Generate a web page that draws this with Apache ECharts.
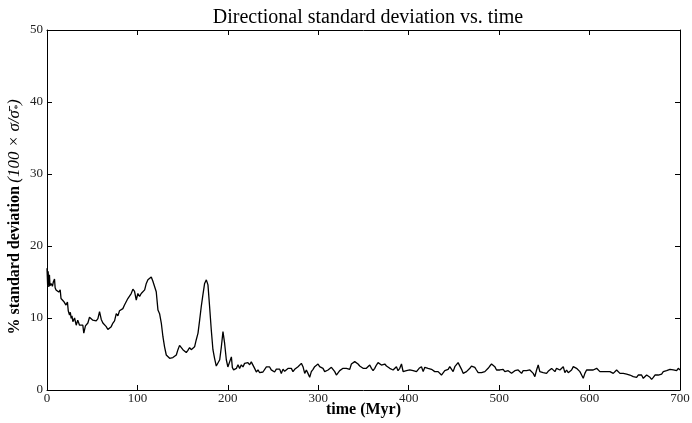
<!DOCTYPE html>
<html>
<head>
<meta charset="utf-8">
<script src="https://cdn.jsdelivr.net/npm/echarts@6/dist/echarts.min.js"></script>
<style>html,body{margin:0;padding:0;background:#fff}#c{width:692px;height:423px}</style>
</head>
<body>
<div id="c"></div>
<script>
var titleText = 'Directional standard deviation vs. time';
var xName = 'time (Myr)';
var yNameMain = '% standard deviation';
var yNameMath = '(100 × σ/σ̄';
var xTicks = [0, 100, 200, 300, 400, 500, 600, 700];
var yTicks = [0, 10, 20, 30, 40, 50];

// [time (Myr), % standard deviation]
var samples = [
[0,16.9],[0.7,14.6],[1.3,16.5],[2,14.3],[2.7,16.0],[3.3,14.5],[4.5,14.8],[6,14.4],[7,15.0],[8.3,15.4],[9,14.2],[10,13.9],
[11.5,14.1],[13,13.6],[14.6,13.9],[15.5,12.7],[17,12.9],[18.5,12.3],[19.4,12.4],[21,11.8],[22,11.9],[22.6,12.2],[23.5,11.0],
[24.9,10.4],[25.8,10.8],[26.7,9.95],[27.6,10.3],[28.6,9.5],[30.5,10.0],[32.3,9.0],[34,9.7],[36,9.0],[37.8,8.8],[39.6,9.0],
[40.7,7.9],[42.5,8.9],[45.2,9.3],[47,10.1],[49,10.1],[50.7,9.7],[52.6,9.5],[54.4,9.6],[56.3,9.9],[58.1,10.9],[60,9.8],
[61.8,9.3],[63.7,9.5],[65.5,8.8],[67.3,8.4],[69.2,8.5],[71,8.8],[72.9,9.3],[74.7,9.6],[76.6,10.6],[78.4,10.3],[80.2,11.0],
[82,10.8],[83.9,11.3],[85.7,11.8],[87.6,11.8],[89.4,12.7],[91.3,12.5],[93.1,13.4],[95,14.0],[96.8,13.7],[98.7,12.5],
[100.5,13.4],[102.4,13.0],[104.2,13.4],[106,13.2],[108,13.9],[109.8,14.8],[111.6,15.3],[113.4,15.5],[115.3,15.7],[117.1,15.1],
[119,15.3],[120.8,13.65],[122.7,11.1],[124.5,10.6],[126.4,9.3],[128.2,7.4],[130,6.0],[131.9,4.86],[133.7,4.6],[135.6,4.4],
[137.4,4.6],[139.2,4.5],[141,4.4],[143,4.86],[144.8,5.6],[146.6,6.2],[148.5,6.4],[150.3,5.6],[152.1,5.4],[154,5.2],
[155.8,5.5],[157.7,5.9],[159.5,5.6],[161.4,5.7],[163.2,6.0],[165,6.95],[167,7.9],[168.8,9.7],[170.6,11.6],[172.4,13.2],
[174.3,14.8],[176.2,15.3],[178,14.6],[179.8,11.6],[181.7,8.3],[183.5,5.6],[185.3,4.4],[187.2,3.33],[189,3.5],[191,4.2],
[192.8,6.0],[194.6,8.1],[196.4,6.5],[198.3,4.2],[200,3.2],[202,3.0],[203.9,4.6],[205,3.1],[206.4,2.8],[209.4,3.0],
[211.2,3.5],[213,3.0],[214.9,3.5],[216.7,3.2],[218.5,3.7],[220.4,3.5],[222.2,3.8],[224.1,3.5],[225.9,3.9],[227.8,3.7],
[229.6,3.0],[231.5,2.5],[233.3,2.8],[235.2,2.4],[237,2.3],[238.8,2.5],[240.7,2.6],[242.6,3.2],[244.4,3.3],[246.2,3.2],
[248,2.8],[249.9,3.0],[251.7,2.5],[253.6,2.9],[255.4,2.8],[257.3,2.9],[259.1,2.3],[261,2.9],[262.8,2.6],[264.7,2.8],
[266.5,3.0],[268.4,2.8],[270.2,3.0],[272,2.55],[273.9,2.87],[275.7,3.0],[277.6,3.24],[279.4,3.47],[281.3,3.7],[283.1,3.24],
[285,2.31],[286.8,2.78],[288.6,2.31],[290.5,1.76],[292.3,2.55],[294.2,2.87],[296,3.24],[297.8,3.47],[299.7,3.61],[301.5,3.24],
[303.4,3.33],[305.2,3.01],[307.1,2.55],[308.9,2.41],[310.8,2.78],[312.6,3.01],[314.5,3.15],[316.3,3.01],[318.2,2.55],[320,2.08],
[321.8,2.31],[323.7,2.69],[325.6,2.87],[327.4,3.01],[329.2,2.78],[331.1,3.01],[332.9,3.24],[334.8,2.87],[336.6,3.61],[338.4,3.47],
[340.3,3.94],[342.1,3.7],[344,3.61],[345.8,3.33],[347.7,3.24],[349.5,3.01],[351.4,2.78],[353.2,3.01],[355,3.24],[356.9,3.47],
[358.8,3.01],[360.6,2.69],[362.4,3.01],[364.3,3.47],[366.1,3.8],[368,4.07],[369.8,3.47],[371.7,3.24],[373.5,3.61],[375.4,3.33],
[377.2,3.24],[379,3.01],[380.9,2.87],[382.7,2.78],[384.6,3.01],[386.4,3.24],[388.2,2.69],[390.1,3.01],[392,3.61],[393.8,2.55],
[395.6,2.31],[397.5,2.69],[399.3,2.55],[401.2,2.78],[403,2.69],[404.9,2.69],[406.7,2.6],[408.6,2.55],[411.5,3.01],[414.1,3.24],
[416,2.55],[417.8,3.15],[419.6,3.24],[421.4,3.01],[423.3,3.15],[425.2,2.87],[427,2.78],[428.8,2.55],[430.7,2.41],[432.5,2.55],
[434.4,2.31],[436.2,2.08],[438,2.31],[439.9,2.69],[441.7,2.55],[443.6,2.87],[445.4,3.24],[447.3,3.15],[449.1,2.55],[451,3.24],
[452.8,3.47],[454.6,3.8],[456.5,3.7],[458.4,2.87],[460.2,2.31],[462,2.41],[463.9,2.55],[465.7,2.78],[467.6,3.01],[469.4,3.33],
[471.2,3.33],[473.1,3.15],[474.9,2.78],[476.8,2.41],[478.6,2.55],[480.5,2.41],[482.3,2.55],[484.2,2.55],[486,2.69],[487.8,3.01],
[489.7,3.33],[491.6,3.61],[493.4,3.7],[495.2,3.24],[497.1,2.78],[498.9,2.55],[500.8,2.78],[502.6,3.01],[504.4,2.87],[506.3,2.55],
[508.1,2.41],[510,2.69],[511.8,2.55],[513.7,2.31],[515.5,2.41],[517.4,2.69],[519.2,2.55],[521,2.78],[522.9,2.55],[524.8,2.31],
[526.6,2.69],[528.4,2.55],[530.3,2.69],[532.1,2.55],[534,2.78],[535.8,2.69],[537.7,2.31],[539.5,1.85],[541.4,2.78],[543.2,3.47],
[545,2.55],[546.9,2.31],[548.7,2.41],[550.6,2.55],[552.4,2.31],[554.2,2.6],[556.1,2.78],[558,3.0],[559.8,3.01],[561.7,2.55],
[563.5,3.01],[565.4,2.78],[567.2,2.78],[569,2.87],[570.9,3.24],[572.7,2.41],[574.6,2.78],[576.4,2.41],[578.3,2.55],[580.1,2.78],
[582,3.24],[583.8,3.47],[585.6,3.01],[587.5,3.24],[589.3,2.55],[591.2,2.08],[593,1.62],[594.8,2.31],[596.7,2.78],[598.5,2.55],
[600.4,2.78],[602.2,3.01],[604,2.78],[605.9,2.87],[607.8,3.01],[609.6,2.78],[611.4,2.55],[613.3,2.31],[615.1,2.55],[617,2.78],
[618.8,2.55],[620.6,2.31],[622.5,2.55],[624.4,2.41],[626.2,2.31],[628,2.55],[629.9,2.78],[631.8,2.55],[633.6,2.31],[635.4,2.55],
[637.3,2.31],[639.1,2.41],[641,2.22],[642.8,2.31],[644.6,2.08],[646.5,2.22],[648.3,1.85],[650.2,2.08],[652,1.76],[653.8,2.08],
[655.7,2.31],[657.5,2.08],[659.4,1.62],[661.2,1.85],[663.1,2.08],[664.9,2.31],[666.8,1.76],[668.6,1.48],[670.5,1.76],[672.3,2.08],
[674.2,1.85],[676,2.08],[677.9,2.31],[679.7,2.22],[681.5,2.55],[683.4,2.41],[685.2,2.69],[687,2.55],[688.9,2.87],[690.8,2.69],
[692.6,2.78],[694.4,2.87],[696.3,2.69],[698.1,3.01],[700,2.78]
];

var SERIF = '"Liberation Serif", "DejaVu Serif", serif';
var chart = echarts.init(document.getElementById('c'), null, {renderer: 'canvas'});

function xAx(pos, show) {
  return {
    type: 'value', position: pos, min: xTicks[0], max: xTicks[xTicks.length - 1], interval: 100,
    axisLine: {show: true, onZero: false, lineStyle: {color: '#000', width: 1}},
    axisTick: {show: true, inside: true, length: 5, lineStyle: {color: '#000', width: 1}},
    axisLabel: {show: show, color: '#222', fontFamily: SERIF, fontSize: 13, margin: 2},
    splitLine: {show: false}
  };
}
function yAx(pos, show) {
  return {
    type: 'value', position: pos, min: yTicks[0], max: yTicks[yTicks.length - 1], interval: 10,
    axisLine: {show: true, onZero: false, lineStyle: {color: '#000', width: 1}},
    axisTick: {show: true, inside: true, length: 5, lineStyle: {color: '#000', width: 1}},
    axisLabel: {show: show, color: '#222', fontFamily: SERIF, fontSize: 13, margin: 4},
    splitLine: {show: false}
  };
}

var xa = xAx('bottom', true);
xa.name = xName; xa.nameLocation = 'middle'; xa.nameGap = 12; xa.nameMoveOverlap = false;
xa.nameTextStyle = {fontFamily: SERIF, fontSize: 16, fontWeight: 'bold', color: '#000'};

chart.setOption({
  animation: false,
  backgroundColor: '#fff',
  title: {
    text: titleText, left: 363, top: 3, textAlign: 'center',
    textStyle: {fontFamily: SERIF, fontSize: 20, fontWeight: 'normal', color: '#000'}
  },
  grid: {left: 47, right: 12, top: 30, bottom: 33, containLabel: false, outerBoundsMode: 'none'},
  xAxis: [xa, xAx('top', false)],
  yAxis: [yAx('left', true), yAx('right', false)],
  graphic: [{
    type: 'text', x: 15, y: 217, rotation: Math.PI / 2,
    style: {
      text: '{a|' + yNameMain + '} {b|' + yNameMath + '}{s|*}{b|)}',
      align: 'center', verticalAlign: 'middle',
      rich: {
        a: {fontFamily: SERIF, fontSize: 16, fontWeight: 'bold', color: '#000'},
        b: {fontFamily: SERIF, fontSize: 17, fontStyle: 'italic', color: '#000'},
        s: {fontFamily: SERIF, fontSize: 10, fontStyle: 'italic', color: '#000', verticalAlign: 'bottom'}
      }
    }
  }],
  series: [{
    type: 'line', xAxisIndex: 0, yAxisIndex: 0,
    data: samples, showSymbol: false, symbol: 'none',
    lineStyle: {color: '#000', width: 1.3}
  }]
});
</script>
</body>
</html>
